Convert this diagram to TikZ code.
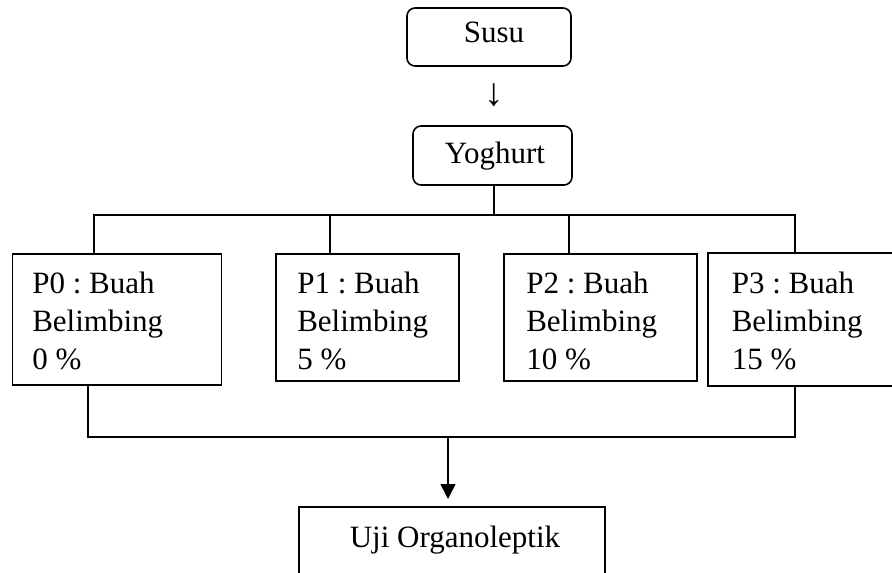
\documentclass[tikz,border=0pt]{standalone}
\usepackage{fontspec}
\setmainfont{Liberation Serif}
\usetikzlibrary{arrows.meta}
\frenchspacing
\begin{document}
\begin{tikzpicture}[x=1pt,y=-1pt,line width=1.6pt,
  every node/.style={font=\fontsize{31}{38}\selectfont},
  rbox/.style={draw,rounded corners=8pt,inner sep=0pt},
  sbox/.style={draw,inner sep=0pt},
  txt/.style={inner sep=0pt,anchor=base},
  ptxt/.style={inner sep=0pt,anchor=base west},
  arr/.style={-{Triangle[width=15pt,length=15pt]}}]
\useasboundingbox (0,0) rectangle (892,573);
% top boxes
\node[rbox,minimum width=164pt,minimum height=58pt] (susu) at (489,37) {};
\node[txt] (susut) at (494,42) {Susu};
\node[inner sep=0pt] (down) at (494,95) {\scalebox{1.25}{↓}};
\node[rbox,minimum width=159pt,minimum height=59pt] (yog) at (492.5,155.5) {};
\node[txt] (yogt) at (495,163) {Yoghurt};
% treatment boxes
\node[sbox,minimum width=209pt,minimum height=131pt] (p0) at (117,319.5) {};
\node[sbox,minimum width=183pt,minimum height=127pt] (p1) at (367.5,317.5) {};
\node[sbox,minimum width=193pt,minimum height=127pt] (p2) at (600.5,317.5) {};
\node[sbox,minimum width=188pt,minimum height=133pt] (p3) at (802,319.5) {};
\node[ptxt] (p0t) at (31.5,293) {\begin{tabular}[t]{@{}l@{}}P0 : Buah\\Belimbing\\0 \%\end{tabular}};
\node[ptxt] (p1t) at (296.5,293) {\begin{tabular}[t]{@{}l@{}}P1 : Buah\\Belimbing\\5 \%\end{tabular}};
\node[ptxt] (p2t) at (525.5,293) {\begin{tabular}[t]{@{}l@{}}P2 : Buah\\Belimbing\\10 \%\end{tabular}};
\node[ptxt] (p3t) at (731,293) {\begin{tabular}[t]{@{}l@{}}P3 : Buah\\Belimbing\\15 \%\end{tabular}};
% result box
\node[sbox,minimum width=306pt,minimum height=76pt] (uji) at (452,545) {};
\node[txt] (ujit) at (455,547) {Uji Organoleptik};
% top bus
\coordinate (tb0) at (94,215);
\coordinate (tb1) at (330,215);
\coordinate (tb2) at (569,215);
\coordinate (tb3) at (795,215);
\coordinate (tbm) at (494,215);
\draw (yog.south -| tbm) -- (tbm);
\draw (tb0 |- p0.north) -- (tb0) -- (tb3) -- (tb3 |- p3.north);
\draw (tb1) -- (tb1 |- p1.north);
\draw (tb2) -- (tb2 |- p2.north);
% bottom bus
\coordinate (bb0) at (88,437);
\coordinate (bb3) at (795,437);
\coordinate (bbm) at (448,437);
\coordinate (tip) at (448,499);
\draw (bb0 |- p0.south) -- (bb0) -- (bb3) -- (bb3 |- p3.south);
\draw[arr] (bbm) -- (tip);
\end{tikzpicture}
\end{document}
